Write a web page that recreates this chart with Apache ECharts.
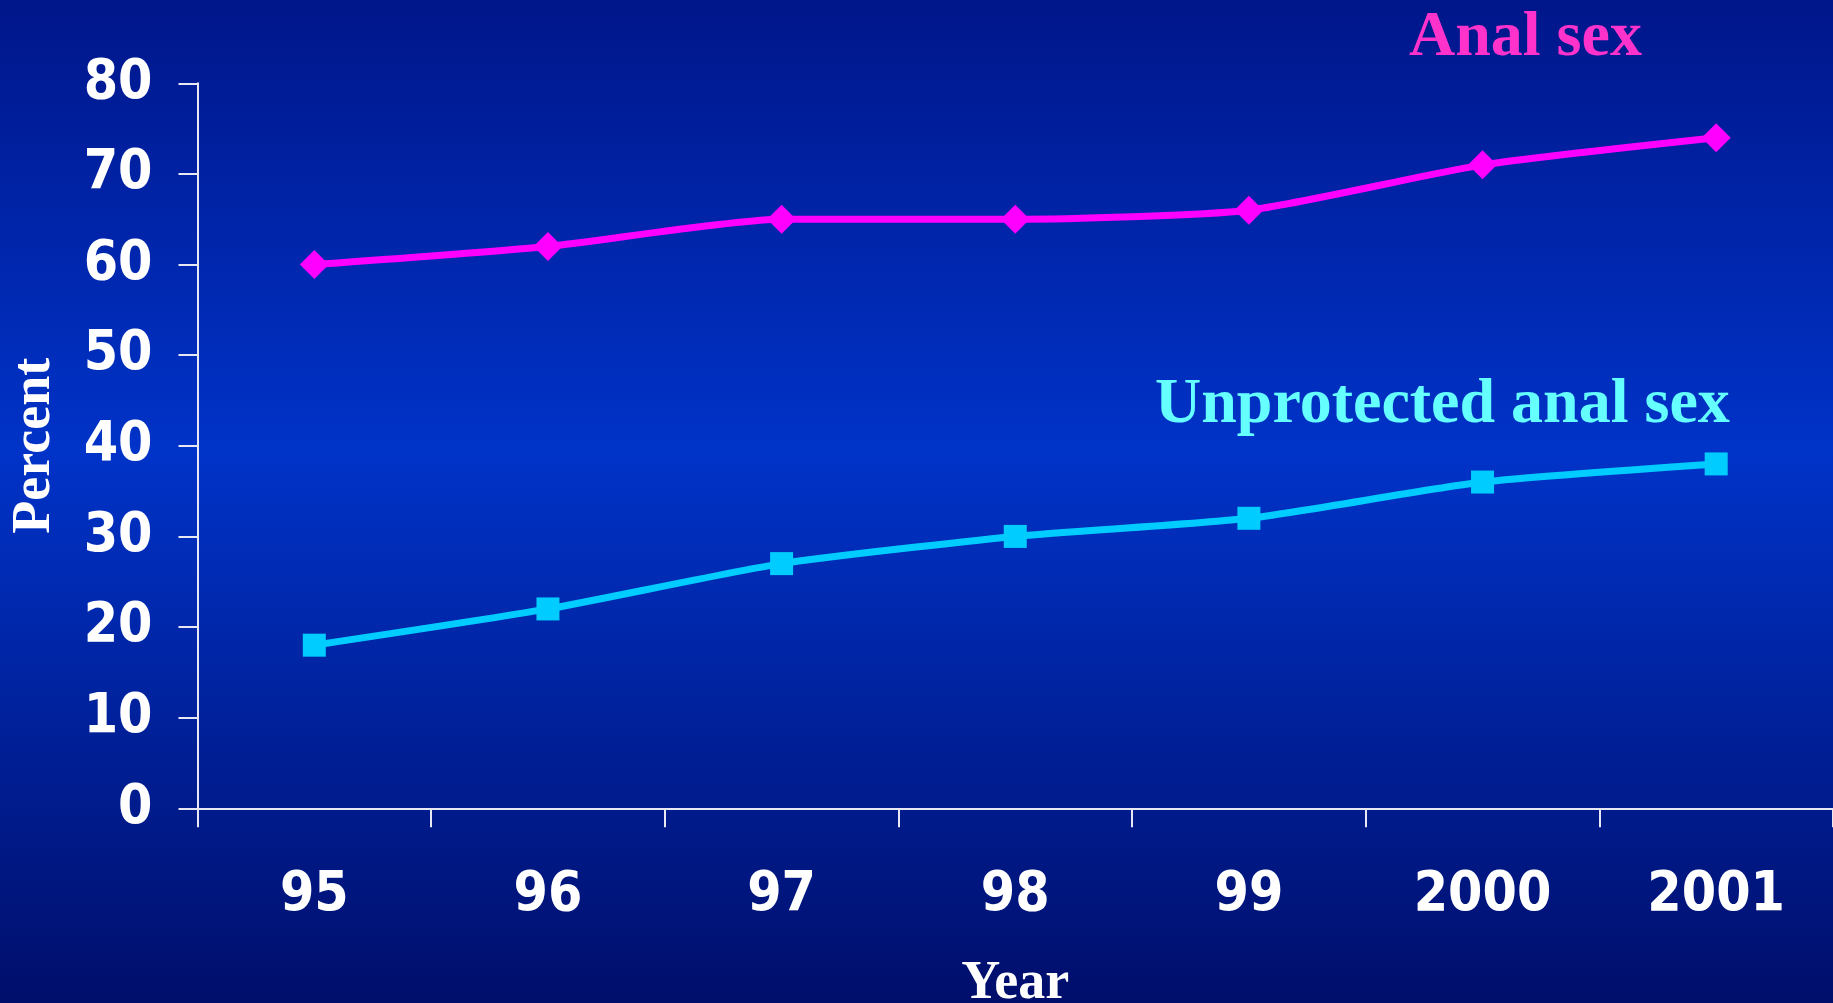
<!DOCTYPE html>
<html>
<head>
<meta charset="utf-8">
<script src="https://cdn.jsdelivr.net/npm/echarts@6/dist/echarts.min.js"></script>
<style>
  html, body { margin: 0; padding: 0; }
  #chart { width: 1833px; height: 1003px; }
</style>
</head>
<body>
<div id="chart"></div>
<script>
const years = ['95', '96', '97', '98', '99', '2000', '2001']
const analSex = [60, 62, 65, 65, 66, 71, 74]
const unprotected = [18, 22, 27, 30, 32, 36, 38]
const yTicks = [0, 10, 20, 30, 40, 50, 60, 70, 80]

const chart = echarts.init(document.getElementById('chart'))

const tickFont = {
  color: '#ffffff',
  fontFamily: 'DejaVu Sans Condensed, DejaVu Sans, sans-serif',
  fontWeight: 'bold',
  fontSize: 55
}
const serifFont = {
  fontFamily: 'Liberation Serif, Times New Roman, serif',
  fontWeight: 'bold',
  fontSize: 54
}

const option = {
  backgroundColor: {
    type: 'linear', x: 0, y: 0, x2: 0, y2: 1,
    colorStops: [
      { offset: 0, color: '#00168a' },
      { offset: 0.45, color: '#0033c8' },
      { offset: 1, color: '#000e6b' }
    ]
  },
  grid: { left: 197.5, right: 0, top: 83.3, bottom: 194.7, outerBoundsMode: 'none' },
  xAxis: {
    type: 'category',
    data: years,
    boundaryGap: true,
    name: 'Year',
    nameLocation: 'middle',
    nameGap: 149,
    nameTextStyle: Object.assign({ color: '#ffffff' }, serifFont),
    axisLine: { lineStyle: { color: '#e8e8f4', width: 2 } },
    axisTick: { show: true, length: 19, lineStyle: { color: '#e8e8f4', width: 2 } },
    axisLabel: Object.assign({ margin: 60 }, tickFont),
    splitLine: { show: false }
  },
  yAxis: {
    type: 'value',
    min: yTicks[0],
    max: yTicks[yTicks.length - 1],
    interval: 10,
    name: 'Percent',
    nameLocation: 'middle',
    nameGap: 135,
    nameRotate: 90,
    nameTextStyle: Object.assign({ color: '#ffffff' }, serifFont),
    axisLine: { show: true, lineStyle: { color: '#e8e8f4', width: 2 } },
    axisTick: { show: true, length: 19, lineStyle: { color: '#e8e8f4', width: 2 } },
    axisLabel: Object.assign({ margin: 45, padding: [16, 0, 0, 0] }, tickFont),
    splitLine: { show: false }
  },
  series: [
    {
      name: 'Anal sex',
      type: 'line',
      data: analSex,
      smooth: 0.2,
      symbol: 'diamond',
      symbolSize: 29,
      showAllSymbol: true,
      lineStyle: { color: '#ff00ff', width: 7 },
      itemStyle: { color: '#ff00ff' }
    },
    {
      name: 'Unprotected anal sex',
      type: 'line',
      data: unprotected,
      smooth: 0.2,
      symbol: 'rect',
      symbolSize: 23,
      showAllSymbol: true,
      lineStyle: { color: '#00ccff', width: 7 },
      itemStyle: { color: '#00ccff' }
    }
  ],
  graphic: [
    {
      type: 'text',
      left: 1409,
      top: 6,
      style: Object.assign({ text: 'Anal sex', fill: '#ff33cc' }, serifFont, { fontSize: 64 })
    },
    {
      type: 'text',
      left: 1155,
      top: 373,
      style: Object.assign({ text: 'Unprotected anal sex', fill: '#66ffff' }, serifFont, { fontSize: 64 })
    }
  ]
}

option && chart.setOption(option)
</script>
</body>
</html>
